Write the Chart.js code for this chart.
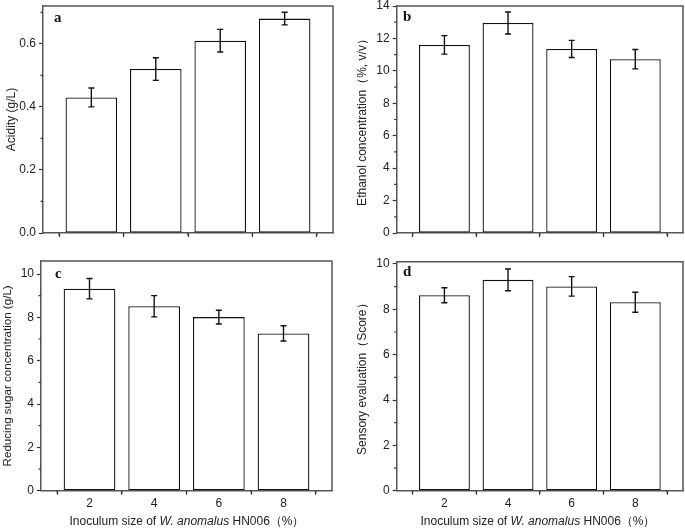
<!DOCTYPE html>
<html>
<head>
<meta charset="utf-8">
<script src="https://cdn.jsdelivr.net/npm/chart.js@4.4.1/dist/chart.umd.min.js"></script>
<style>
  html, body { margin: 0; padding: 0; background: #fff; }
  body { width: 685px; height: 530px; position: relative; overflow: hidden; }
  .panel { position: absolute; }
  .letter { position: absolute; font-family: "Liberation Serif", "Times New Roman", serif; font-weight: bold; font-size: 15px; line-height: 15px; color: #111; }
  .xtitle { position: absolute; font-family: "Liberation Sans", Arial, sans-serif; font-size: 12px; line-height: 14px; color: #222; white-space: nowrap; transform: translateX(-50%); }
</style>
</head>
<body>
<div class="panel" id="pa" style="left:0px;top:0px;width:342px;height:255px"><canvas id="ca"></canvas></div>
<div class="panel" id="pb" style="left:342px;top:0px;width:343px;height:255px"><canvas id="cb"></canvas></div>
<div class="panel" id="pc" style="left:0px;top:255px;width:342px;height:275px"><canvas id="cc"></canvas></div>
<div class="panel" id="pd" style="left:342px;top:255px;width:343px;height:275px"><canvas id="cd"></canvas></div>

<div class="letter" style="left:54px;top:10px">a</div>
<div class="letter" style="left:403px;top:9px">b</div>
<div class="letter" style="left:55px;top:266px">c</div>
<div class="letter" style="left:403px;top:264px">d</div>

<div class="xtitle" style="left:187px;top:514px">Inoculum size of <i>W. anomalus</i> HN006（%）</div>
<div class="xtitle" style="left:538px;top:514px">Inoculum size of <i>W. anomalus</i> HN006（%）</div>

<script>
// ---- data ----
const categories = [2, 4, 6, 8];
const xMinor = [1, 3, 5, 7, 9];

const acidity = [0.43, 0.52, 0.61, 0.68];
const acidityErr = [0.03, 0.036, 0.036, 0.02];
const acidityTicks = [0, 0.2, 0.4, 0.6];
const acidityMinor = [0.1, 0.3, 0.5, 0.7];

const ethanol = [11.6, 12.95, 11.35, 10.72];
const ethanolErr = [0.57, 0.68, 0.53, 0.6];
const ethanolTicks = [0, 2, 4, 6, 8, 10, 12, 14];
const ethanolMinor = [1, 3, 5, 7, 9, 11, 13];

const sugar = [9.32, 8.51, 8.01, 7.26];
const sugarErr = [0.47, 0.49, 0.32, 0.35];
const sugarTicks = [0, 2, 4, 6, 8, 10];
const sugarMinor = [1, 3, 5, 7, 9];

const sensory = [8.62, 9.3, 9.01, 8.31];
const sensoryErr = [0.33, 0.48, 0.43, 0.44];
const sensoryTicks = [0, 2, 4, 6, 8, 10];
const sensoryMinor = [1, 3, 5, 7, 9];

// ---- helpers ----
const AXIS = '#555';
const extras = {
  id: 'extras',
  afterDatasetsDraw(chart) {
    const o = chart.options.plugins.extras;
    const ctx = chart.ctx;
    const ys = chart.scales.y, xs = chart.scales.x;
    const meta = chart.getDatasetMeta(0);
    ctx.save();
    // error bars
    ctx.strokeStyle = '#111';
    ctx.lineWidth = 1.4;
    meta.data.forEach((bar, i) => {
      const v = o.values[i], e = o.errs[i];
      const x = bar.x;
      const yt = ys.getPixelForValue(v + e);
      const yb = ys.getPixelForValue(v - e);
      ctx.beginPath();
      ctx.moveTo(x, yt); ctx.lineTo(x, yb);
      ctx.moveTo(x - 3, yt); ctx.lineTo(x + 3, yt);
      ctx.moveTo(x - 3, yb); ctx.lineTo(x + 3, yb);
      ctx.stroke();
    });
    const a = chart.chartArea;
    // frame top/right
    ctx.strokeStyle = AXIS;
    ctx.lineWidth = 1.5;
    ctx.beginPath();
    ctx.moveTo(a.left, a.top); ctx.lineTo(a.right, a.top); ctx.lineTo(a.right, a.bottom);
    ctx.stroke();
    // minor ticks
    ctx.strokeStyle = '#333';
    ctx.lineWidth = 1.2;
    ctx.beginPath();
    o.yMinor.forEach(v => {
      const py = ys.getPixelForValue(v);
      ctx.moveTo(a.left - 2.5, py); ctx.lineTo(a.left, py);
    });
    xMinor.forEach(v => {
      const px = xs.getPixelForValue(v);
      ctx.moveTo(px, a.bottom); ctx.lineTo(px, a.bottom + 2.5);
    });
    ctx.stroke();
    ctx.restore();
  }
};

function makeChart(id, values, errs, yMax, yTicks, yMinor, decimals, showX, g, yTitle, titlePad, titleSize) {
  const xh = showX ? 30 : 10;
  return new Chart(document.getElementById(id), {
    type: 'bar',
    data: {
      datasets: [{
        data: categories.map((c, i) => ({ x: c, y: values[i] })),
        backgroundColor: '#ffffff',
        borderColor: '#111',
        borderWidth: 1.3,
        borderSkipped: false,
        barPercentage: 0.8,
        categoryPercentage: 1.0
      }]
    },
    options: {
      responsive: true,
      maintainAspectRatio: false,
      animation: false,
      layout: { padding: { left: 0, top: g.T, right: g.W - g.R, bottom: g.H - g.B - xh } },
      plugins: {
        legend: { display: false },
        tooltip: { enabled: false },
        extras: { values, errs, yMinor }
      },
      scales: {
        x: {
          type: 'linear',
          min: 0.5, max: 9.5,
          offset: false,
          afterBuildTicks: s => { s.ticks = categories.map(v => ({ value: v })); },
          afterFit: s => { s.height = xh; s.paddingLeft = 0; s.paddingRight = 0; },
          grid: { drawOnChartArea: false, drawTicks: true, tickLength: 4, color: '#333', tickWidth: 1.2 },
          border: { display: true, color: AXIS, width: 1.5 },
          ticks: {
            display: showX,
            padding: 2,
            color: '#222',
            font: { family: '"Liberation Sans", Arial, sans-serif', size: 12 },
            callback: v => String(v)
          }
        },
        y: {
          min: 0, max: yMax,
          afterBuildTicks: s => { s.ticks = yTicks.map(v => ({ value: v })); },
          afterFit: s => { s.width = g.L; s.paddingTop = 0; s.paddingBottom = 0; },
          grid: { drawOnChartArea: false, drawTicks: true, tickLength: 4, color: '#333', tickWidth: 1.2 },
          border: { display: true, color: AXIS, width: 1.5 },
          ticks: {
            padding: 3,
            color: '#222',
            font: { family: '"Liberation Sans", Arial, sans-serif', size: 12 },
            callback: v => Number(v).toFixed(decimals)
          },
          title: {
            display: true,
            text: yTitle,
            color: '#222',
            padding: { top: titlePad, bottom: 0 },
            font: { family: '"Liberation Sans", Arial, sans-serif', size: titleSize }
          }
        }
      }
    },
    plugins: [extras]
  });
}

makeChart('ca', acidity, acidityErr, 0.72, acidityTicks, acidityMinor, 1, false,
  { L: 43, T: 6, R: 333, B: 233, W: 342, H: 255 }, 'Acidity (g/L)', 4.8, 12);
makeChart('cb', ethanol, ethanolErr, 14, ethanolTicks, ethanolMinor, 0, false,
  { L: 54.7, T: 6, R: 341, B: 233, W: 343, H: 255 }, 'Ethanol concentration（%, v/v）', 13.8, 12);
makeChart('cc', sugar, sugarErr, 10.6, sugarTicks, sugarMinor, 0, true,
  { L: 41, T: 6, R: 332, B: 235.7, W: 342, H: 275 }, 'Reducing sugar concentration (g/L)', 1.2, 11.6);
makeChart('cd', sensory, sensoryErr, 10.1, sensoryTicks, sensoryMinor, 0, true,
  { L: 54.7, T: 6.7, R: 341, B: 235.7, W: 343, H: 275 }, 'Sensory evaluation（Score）', 13.8, 12);
</script>
</body>
</html>
